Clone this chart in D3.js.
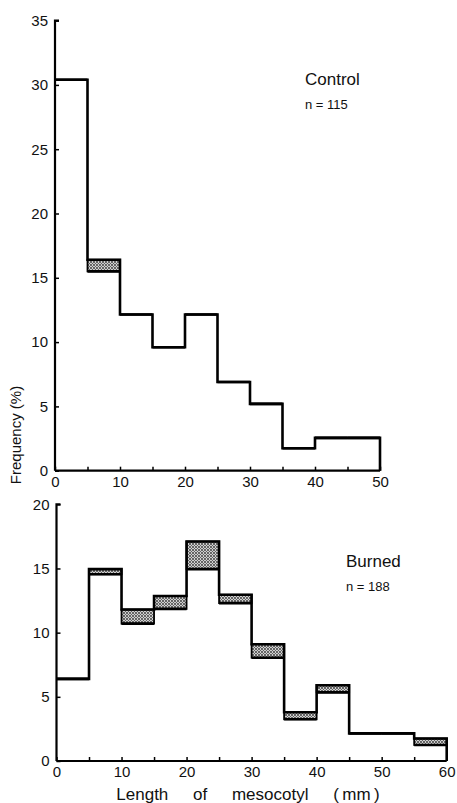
<!DOCTYPE html>
<html>
<head>
<meta charset="utf-8">
<script src="https://cdn.jsdelivr.net/npm/d3@7"></script>
<style>
  html, body { margin: 0; padding: 0; background: #fff; }
  svg { display: block; }
  text { font-family: "Liberation Sans", Arial, sans-serif; fill: #111; }
</style>
</head>
<body>
<svg id="chart" width="457" height="803"></svg>
<script>
// ---- Data ----
const binWidth = 5;
const controlBins = [0, 5, 10, 15, 20, 25, 30, 35, 40, 45];
const controlLower = [30.4, 15.5, 12.15, 9.6, 12.15, 6.9, 5.2, 1.75, 2.55, 2.55];
const controlUpper = [30.4, 16.4, 12.15, 9.6, 12.15, 6.9, 5.2, 1.75, 2.55, 2.55];
const burnedBins = [0, 5, 10, 15, 20, 25, 30, 35, 40, 45, 50, 55];
const burnedLower = [6.4, 14.55, 10.7, 11.85, 14.95, 12.3, 8.05, 3.25, 5.35, 2.15, 2.15, 1.25];
const burnedUpper = [6.4, 14.95, 11.8, 12.85, 17.1, 12.95, 9.1, 3.8, 5.9, 2.15, 2.15, 1.75];
const controlYTicks = [0, 5, 10, 15, 20, 25, 30, 35];
const burnedYTicks = [0, 5, 10, 15, 20];
const controlXTicks = [0, 10, 20, 30, 40, 50];
const burnedXTicks = [0, 10, 20, 30, 40, 50, 60];
const controlTitle = "Control", controlN = "n = 115";
const burnedTitle = "Burned", burnedN = "n = 188";
const yLabel = "Frequency (%)";
const xLabel = "Length of mesocotyl (\u2009mm\u2009)";

const svg = d3.select("#chart");

const defs = svg.append("defs");
const pat = defs.append("pattern").attr("id", "stipple")
  .attr("width", 3).attr("height", 3).attr("patternUnits", "userSpaceOnUse");
pat.append("rect").attr("width", 3).attr("height", 3).attr("fill", "#d0d0d0");
pat.append("circle").attr("cx", 1).attr("cy", 1).attr("r", 0.9).attr("fill", "#333");
pat.append("circle").attr("cx", 2.5).attr("cy", 2.5).attr("r", 0.6).attr("fill", "#555");

function panel(opts) {
  const { bins, lower, upper, xMax, yMax, xRange, yRange, yTicks, xTicks, title, n, titlePos } = opts;
  const x = d3.scaleLinear().domain([0, xMax]).range(xRange);
  const y = d3.scaleLinear().domain([0, yMax]).range(yRange);
  const g = svg.append("g");

  bins.forEach((b, i) => {
    if (upper[i] > lower[i]) {
      g.append("rect")
        .attr("x", x(b)).attr("width", x(b + binWidth) - x(b))
        .attr("y", y(upper[i])).attr("height", y(lower[i]) - y(upper[i]))
        .attr("fill", "url(#stipple)").attr("stroke", "#000").attr("stroke-width", 1.8);
    }
  });

  bins.forEach((b, i) => {
    g.append("line")
      .attr("x1", x(b)).attr("x2", x(b + binWidth))
      .attr("y1", y(lower[i])).attr("y2", y(lower[i]))
      .attr("stroke", "#000").attr("stroke-width", 2.6);
  });

  let d = `M${x(0)},${y(upper[0])}`;
  bins.forEach((b, i) => {
    d += `L${x(b + binWidth)},${y(upper[i])}`;
    const next = i + 1 < bins.length ? upper[i + 1] : 0;
    d += `L${x(b + binWidth)},${y(next)}`;
  });
  g.append("path").attr("d", d).attr("fill", "none")
    .attr("stroke", "#000").attr("stroke-width", 2.6).attr("stroke-linejoin", "miter");

  const yAxis = d3.axisLeft(y).tickValues(yTicks).tickSize(-4).tickPadding(7);
  const ya = g.append("g").attr("transform", `translate(${x(0)},0)`).call(yAxis);
  const minor = d3.range(0, xMax + 0.1, binWidth);
  const xAxis = d3.axisBottom(x).tickValues(minor).tickSize(-4).tickPadding(8)
    .tickFormat(v => xTicks.includes(v) ? v : "");
  const xa = g.append("g").attr("transform", `translate(0,${y(0)})`).call(xAxis);
  [ya, xa].forEach(a => {
    a.select(".domain").attr("stroke", "#000").attr("stroke-width", 2.2);
    a.selectAll(".tick line").attr("stroke", "#000").attr("stroke-width", 1.5);
    a.selectAll(".tick text").attr("font-size", 15)
      .attr("font-family", "'Liberation Sans', Arial, sans-serif").attr("fill", "#111");
  });
  ya.select(".domain").attr("d", `M0,${y(0)}V${y(yMax)}H4`);
  xa.select(".domain").attr("d", `M${x(0)},0H${x(xMax)}`);
  xa.selectAll(".tick text").attr("dy", "0.55em");

  g.append("text").attr("x", titlePos[0]).attr("y", titlePos[1])
    .attr("font-size", 17).text(title);
  g.append("text").attr("x", titlePos[0]).attr("y", titlePos[1] + 24)
    .attr("font-size", 13).text(n);
}

panel({
  bins: controlBins, lower: controlLower, upper: controlUpper,
  xMax: 50, yMax: 35, xRange: [55, 380], yRange: [470.7, 20.6],
  yTicks: controlYTicks, xTicks: controlXTicks,
  title: controlTitle, n: controlN, titlePos: [305, 85]
});
panel({
  bins: burnedBins, lower: burnedLower, upper: burnedUpper,
  xMax: 60, yMax: 20, xRange: [56.5, 446.7], yRange: [761, 504.3],
  yTicks: burnedYTicks, xTicks: burnedXTicks,
  title: burnedTitle, n: burnedN, titlePos: [346, 567]
});

svg.append("text").attr("transform", "translate(21,435) rotate(-90)")
  .attr("text-anchor", "middle").attr("font-size", 15).text(yLabel);
svg.append("text").attr("x", 248).attr("y", 800)
  .attr("text-anchor", "middle").attr("font-size", 17)
  .attr("word-spacing", 20).text(xLabel);
</script>
</body>
</html>
